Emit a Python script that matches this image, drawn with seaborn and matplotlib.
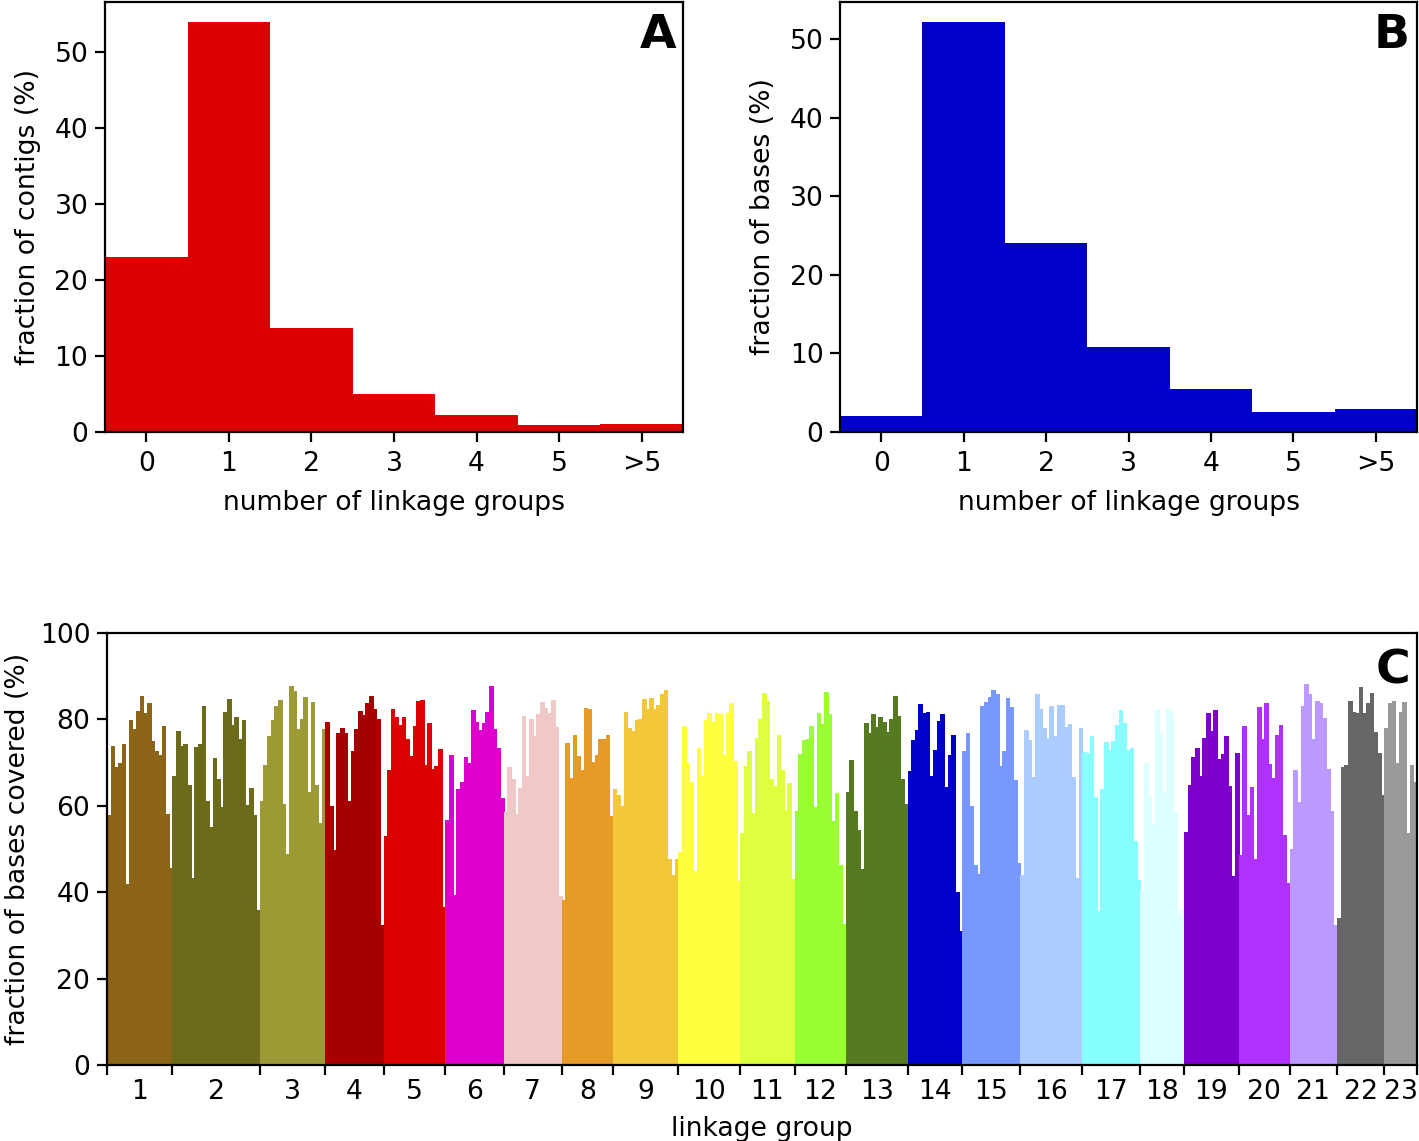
import numpy as np
import pandas as pd
import matplotlib
matplotlib.use("Agg")
import matplotlib.pyplot as plt
import seaborn as sns

# ---------------- data ----------------
hist_labels = ["0", "1", "2", "3", "4", "5", ">5"]
contigs_pct = [23.0, 53.9, 13.7, 5.0, 2.2, 0.95, 1.1]
bases_pct = [2.0, 52.1, 24.0, 10.8, 5.5, 2.5, 2.95]

lg1 = [57.8, 73.9, 69.0, 69.8, 74.3, 42.0, 79.8, 77.8, 82.0, 85.5, 81.4, 83.8, 75.0, 72.7, 71.7, 78.4, 58.1, 45.6]
lg2 = [67.0, 77.3, 73.8, 74.3, 64.8, 43.3, 73.7, 74.3, 83.2, 61.2, 55.1, 71.0, 66.2, 59.8, 81.8, 84.8, 78.6, 80.6, 75.4, 79.8, 60.2, 64.2, 57.9, 35.9]
lg3 = [61.1, 69.4, 76.1, 79.8, 83.1, 84.5, 60.5, 48.8, 87.8, 86.6, 77.8, 80.2, 85.2, 63.2, 84.0, 64.8, 56.1, 77.7]
lg4 = [79.3, 60.0, 49.7, 76.8, 77.9, 76.8, 61.2, 72.7, 77.8, 82.0, 81.0, 83.9, 85.5, 82.3, 80.1, 32.3]
lg5 = [53.0, 68.3, 82.3, 80.6, 78.7, 80.5, 75.4, 71.5, 78.5, 84.3, 84.6, 69.4, 79.1, 68.6, 69.3, 73.2, 36.5]
lg6 = [56.7, 71.8, 39.3, 63.8, 65.6, 71.3, 69.9, 82.2, 79.5, 77.5, 79.1, 81.7, 87.8, 77.7, 73.4, 61.8]
lg7 = [58.5, 68.9, 66.3, 58.2, 64.1, 80.7, 67.0, 80.0, 76.2, 81.2, 84.0, 82.7, 81.4, 84.6, 78.2, 39.2]
lg8 = [38.2, 74.5, 66.5, 76.4, 71.5, 68.3, 82.6, 82.4, 70.2, 71.7, 75.4, 75.4, 76.4, 57.7]
lg9 = [63.8, 62.5, 59.9, 81.8, 78.1, 77.4, 79.8, 80.2, 84.7, 82.4, 84.9, 82.4, 83.3, 86.0, 86.7, 47.7, 44.1, 47.8]
lg10 = [49.4, 78.4, 70.0, 65.6, 44.9, 73.5, 67.0, 79.8, 81.4, 79.5, 81.4, 81.2, 71.8, 81.4, 83.9, 70.3, 42.7]
lg11 = [53.6, 69.3, 72.8, 58.4, 75.7, 80.2, 86.1, 84.2, 66.2, 64.6, 76.3, 68.3, 59.1, 65.2, 43.0]
lg12 = [58.8, 72.0, 75.2, 75.4, 78.4, 59.8, 81.6, 79.0, 86.3, 81.2, 56.4, 62.9, 46.3, 32.7]
lg13 = [63.3, 70.6, 58.9, 54.4, 45.3, 79.1, 76.9, 81.3, 78.2, 80.5, 79.4, 77.0, 80.0, 85.4, 80.8, 66.2, 60.5]
lg14 = [68.1, 75.2, 77.5, 83.5, 81.6, 81.8, 66.9, 72.9, 79.7, 81.2, 64.4, 71.7, 76.3, 40.1, 31.0]
lg15 = [72.7, 76.8, 60.0, 46.3, 44.2, 83.0, 84.0, 85.2, 86.8, 86.0, 69.3, 72.7, 84.9, 82.9, 65.9, 46.8]
lg16 = [44.1, 77.5, 75.2, 66.7, 85.9, 82.5, 78.1, 75.6, 83.2, 76.2, 83.4, 83.4, 78.3, 78.9, 66.7, 43.2, 78.1]
lg17 = [72.4, 72.3, 76.1, 62.1, 35.7, 63.9, 74.7, 73.0, 75.1, 78.6, 82.1, 79.1, 73.0, 73.3, 51.8, 42.8]
lg18 = [40.5, 70.0, 62.2, 56.1, 82.5, 77.1, 62.9, 82.5, 81.4, 58.7, 34.7, 36.0]
lg19 = [54.0, 64.8, 71.4, 73.4, 66.9, 75.7, 81.5, 77.3, 82.2, 70.9, 72.1, 76.1, 64.5, 43.8, 72.3]
lg20 = [48.7, 78.5, 57.9, 64.4, 47.7, 82.8, 75.4, 83.9, 69.7, 66.4, 76.4, 78.7, 53.2, 42.2]
lg21 = [50.1, 68.3, 60.9, 83.2, 88.3, 85.9, 75.4, 84.2, 83.9, 80.3, 68.6, 58.8, 32.4]
lg22 = [34.1, 69.0, 69.5, 84.2, 81.8, 81.4, 87.6, 81.4, 83.7, 86.2, 77.1, 72.3, 62.5]
lg23 = [77.9, 83.7, 84.3, 69.8, 81.8, 84.0, 53.6, 69.5, 65.4]

coverage = [lg1, lg2, lg3, lg4, lg5, lg6, lg7, lg8, lg9, lg10, lg11, lg12,
            lg13, lg14, lg15, lg16, lg17, lg18, lg19, lg20, lg21, lg22, lg23]
group_labels = [str(i) for i in range(1, 24)]
group_colors = ["#8c6418", "#6b6b1a", "#9c9a35", "#a80000", "#dd0000", "#dd00cc",
                "#f0c8c8", "#e69a28", "#f2c83a", "#ffff40", "#ddff40", "#99ff33",
                "#557a1f", "#0000c8", "#7799ff", "#aaccff", "#88ffff", "#ddffff",
                "#7f00cc", "#b030ff", "#bb99ff", "#666666", "#999999"]

# ---------------- style ----------------
FS = 19.2
sns.set_theme(style="white")
plt.rcParams.update({
    "font.family": ["DejaVu Sans"],
    "axes.edgecolor": "black",
    "axes.linewidth": 1.6,
    "xtick.bottom": True,
    "ytick.left": True,
    "xtick.major.size": 7,
    "ytick.major.size": 7,
    "xtick.major.width": 1.6,
    "ytick.major.width": 1.6,
    "xtick.major.pad": 7,
    "ytick.major.pad": 5,
    "xtick.color": "black",
    "ytick.color": "black",
    "xtick.labelsize": FS,
    "ytick.labelsize": FS,
    "axes.labelsize": FS,
    "axes.labelcolor": "black",
    "text.color": "black",
})

fig = plt.figure(figsize=(14.19, 11.41), dpi=100)
axA = fig.add_axes([0.0740, 0.6214, 0.4073, 0.3769])
axB = fig.add_axes([0.5920, 0.6214, 0.4066, 0.3769])
axC = fig.add_axes([0.0754, 0.0666, 0.9232, 0.3786])

# ---------------- panel A / B ----------------
dfA = pd.DataFrame({"n": hist_labels, "pct": contigs_pct})
dfB = pd.DataFrame({"n": hist_labels, "pct": bases_pct})
sns.barplot(data=dfA, x="n", y="pct", color="#dd0000", saturation=1, width=1.0,
            linewidth=0, errorbar=None, ax=axA)
sns.barplot(data=dfB, x="n", y="pct", color="#0000c8", saturation=1, width=1.0,
            linewidth=0, errorbar=None, ax=axB)
for ax, ylab, letter, top in [(axA, "fraction of contigs (%)", "A", max(contigs_pct) * 1.05),
                              (axB, "fraction of bases (%)", "B", max(bases_pct) * 1.05)]:
    ax.set_xlim(-0.5, 6.5)
    ax.set_ylim(0, top)
    ax.set_yticks([0, 10, 20, 30, 40, 50])
    ax.set_xlabel("number of linkage groups", labelpad=9)
    ax.set_ylabel(ylab, labelpad=10)
    for s in ax.spines.values():
        s.set_visible(True)
    ax.text(0.988, 0.975, letter, transform=ax.transAxes, ha="right", va="top",
            fontsize=34, fontweight="bold")

# ---------------- panel C ----------------
rows = []
pos = 0
bounds = [0]
centers = []
for lab, vals in zip(group_labels, coverage):
    start = pos
    for v in vals:
        rows.append({"pos": pos + 0.5, "cov": v, "group": lab})
        pos += 1
    bounds.append(pos)
    centers.append((start + pos) / 2)
dfC = pd.DataFrame(rows)

sns.barplot(data=dfC, x="pos", y="cov", hue="group", hue_order=group_labels,
            palette=group_colors, native_scale=True, width=1.0, dodge=False,
            saturation=1, linewidth=0, errorbar=None, legend=False, ax=axC)
for p in axC.patches:
    p.set_edgecolor(p.get_facecolor())
    p.set_linewidth(0.6)
    p.set_antialiased(False)

axC.set_xlim(0, pos)
axC.set_ylim(0, 100)
axC.set_yticks([0, 20, 40, 60, 80, 100])
axC.set_xticks(bounds)
axC.set_xticklabels([""] * len(bounds))
axC.set_xticks(centers, minor=True)
axC.set_xticklabels(group_labels, minor=True)
axC.tick_params(axis="x", which="minor", length=0, labelsize=FS, pad=10)
axC.set_xlabel("linkage group", labelpad=8)
axC.set_ylabel("fraction of bases covered (%)", labelpad=6)
for s in axC.spines.values():
    s.set_visible(True)
axC.text(0.995, 0.965, "C", transform=axC.transAxes, ha="right", va="top",
         fontsize=34, fontweight="bold")

fig.savefig("out.png", dpi=100, facecolor="white")
